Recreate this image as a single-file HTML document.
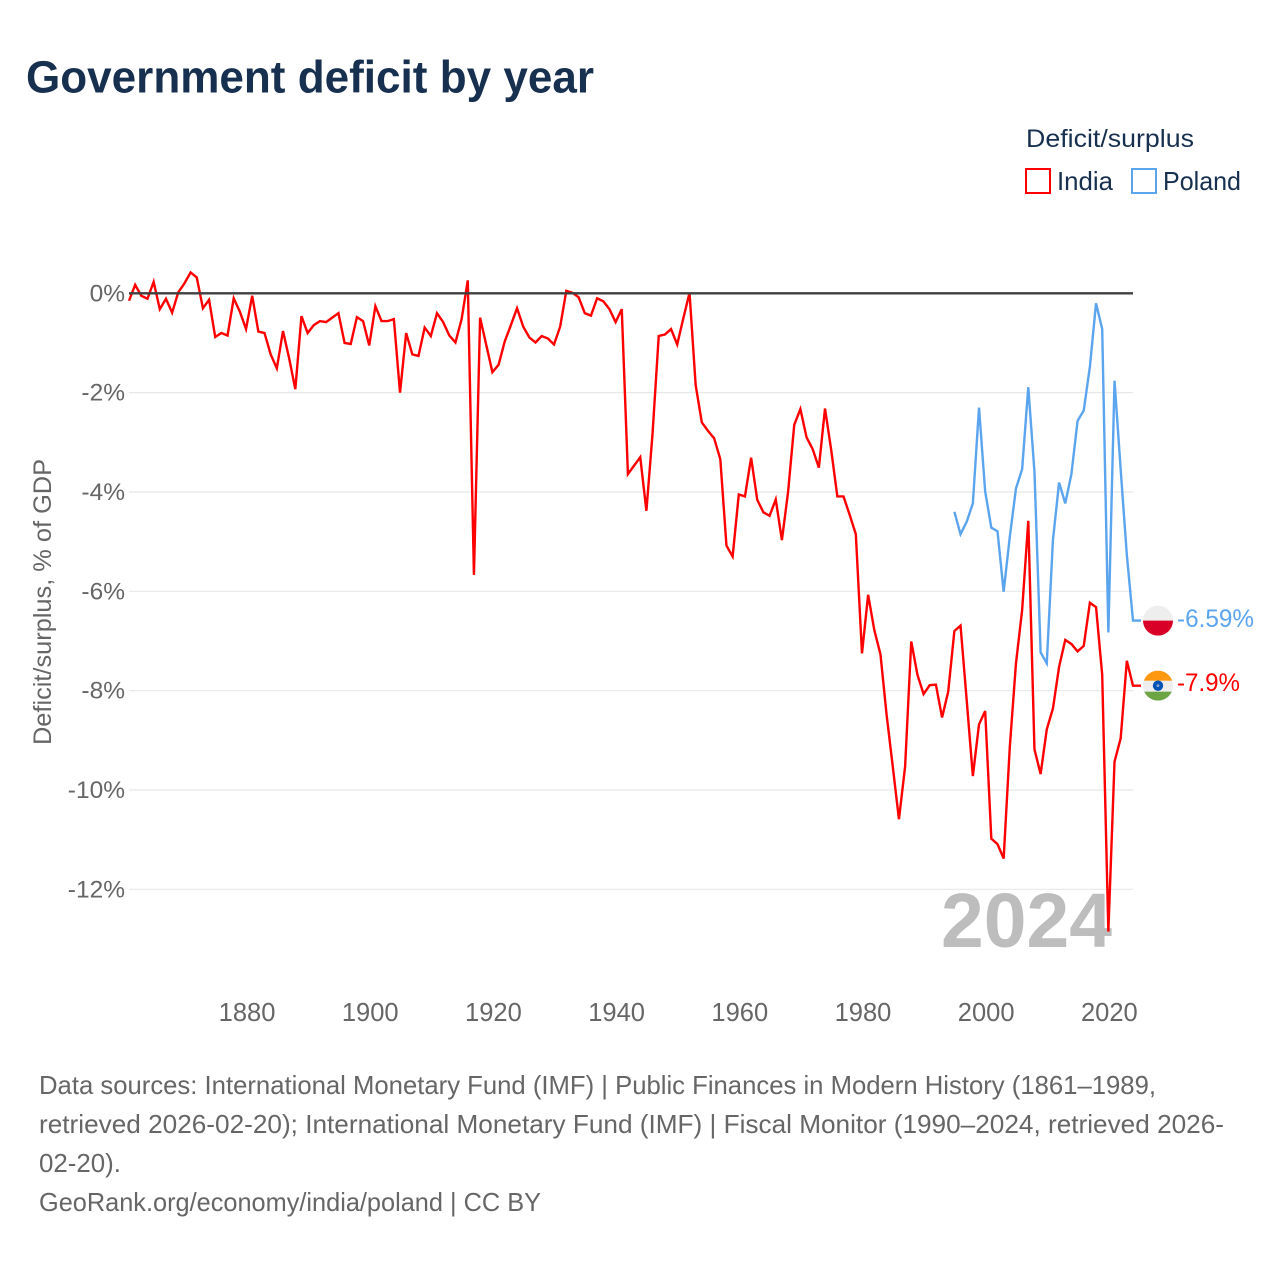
<!DOCTYPE html>
<html lang="en">
<head>
<meta charset="utf-8">
<title>Government deficit by year</title>
<style>
html,body{margin:0;padding:0;background:#fff;}
svg{display:block;font-family:"Liberation Sans",sans-serif;}
</style>
</head>
<body>
<svg id="chart" xmlns="http://www.w3.org/2000/svg" width="1280" height="1280" viewBox="0 0 1280 1280">
<rect width="1280" height="1280" fill="#fff"/>
<text x="26" y="92.5" font-size="45" font-weight="700" fill="#17304f" textLength="568" lengthAdjust="spacingAndGlyphs">Government deficit by year</text>
<text x="1026" y="147" font-size="25" fill="#17304f" textLength="168" lengthAdjust="spacingAndGlyphs">Deficit/surplus</text>
<rect x="1026" y="169" width="24" height="24" fill="#fff" stroke="#ff0000" stroke-width="2"/>
<text x="1057" y="190" font-size="26" fill="#17304f" textLength="56" lengthAdjust="spacingAndGlyphs">India</text>
<rect x="1132" y="169" width="24" height="24" fill="#fff" stroke="#5ba4ee" stroke-width="2"/>
<text x="1163" y="190" font-size="26" fill="#17304f" textLength="78" lengthAdjust="spacingAndGlyphs">Poland</text>
<text transform="translate(51,745) rotate(-90)" font-size="25" fill="#666" textLength="286" lengthAdjust="spacingAndGlyphs">Deficit/surplus, % of GDP</text>
<g id="grid"></g>
<g id="yticks"></g>
<g id="xticks"></g>
<text x="941" y="947" font-size="77" font-weight="700" fill="#bdbdbd" textLength="171" lengthAdjust="spacingAndGlyphs">2024</text>
<g id="series"></g>
<line id="zero" x1="129" x2="1133" stroke="#3f3f3f" stroke-width="2.4"/>
<g id="flag-poland">
  <clipPath id="clip-pl"><circle cx="0" cy="0" r="15"/></clipPath>
  <g clip-path="url(#clip-pl)">
    <rect x="-15" y="-15" width="30" height="15" fill="#eeeeee"/>
    <rect x="-15" y="0" width="30" height="15" fill="#d80027"/>
  </g>
</g>
<g id="flag-india">
  <clipPath id="clip-in"><circle cx="0" cy="0" r="15"/></clipPath>
  <g clip-path="url(#clip-in)">
    <rect x="-15" y="-15" width="30" height="30" fill="#eeeeee"/>
    <rect x="-15" y="-15" width="30" height="10" fill="#ff9811"/>
    <rect x="-15" y="6" width="30" height="9" fill="#6da544"/>
    <circle cx="0" cy="0" r="5.2" fill="#0052b4"/>
    <circle cx="0" cy="0" r="1.4" fill="#7fa8d8"/>
  </g>
</g>
<text id="label-poland" x="1177" font-size="25" fill="#5ba4ee" textLength="77" lengthAdjust="spacingAndGlyphs"></text>
<text id="label-india" x="1177" font-size="25" fill="#ff0000" textLength="63" lengthAdjust="spacingAndGlyphs"></text>
<g font-size="26" fill="#666">
<text x="39" y="1094" textLength="1117" lengthAdjust="spacingAndGlyphs">Data sources: International Monetary Fund (IMF) | Public Finances in Modern History (1861–1989,</text>
<text x="39" y="1133" textLength="1185" lengthAdjust="spacingAndGlyphs">retrieved 2026-02-20); International Monetary Fund (IMF) | Fiscal Monitor (1990–2024, retrieved 2026-</text>
<text x="39" y="1172" textLength="82" lengthAdjust="spacingAndGlyphs">02-20).</text>
<text x="39" y="1211" textLength="502" lengthAdjust="spacingAndGlyphs">GeoRank.org/economy/india/poland | CC BY</text>
</g>
</svg>
<script>
const indiaStartYear = 1861;
const polandStartYear = 1995;
const yTickValues = [0, -2, -4, -6, -8, -10, -12];
const xTickYears = [1880, 1900, 1920, 1940, 1960, 1980, 2000, 2020];
const indiaValues = [
-0.15,0.17,-0.05,-0.11,0.23,-0.32,-0.11,-0.39,0.02,0.2,
0.42,0.32,-0.3,-0.13,-0.88,-0.8,-0.85,-0.1,-0.37,-0.72,
-0.05,-0.77,-0.8,-1.23,-1.51,-0.76,-1.31,-1.93,-0.46,-0.8,
-0.64,-0.56,-0.58,-0.49,-0.4,-1.0,-1.02,-0.48,-0.56,-1.05,
-0.26,-0.56,-0.56,-0.52,-2.0,-0.8,-1.23,-1.26,-0.69,-0.86,
-0.4,-0.58,-0.85,-0.99,-0.52,0.26,-5.67,-0.49,-1.04,-1.59,
-1.44,-0.97,-0.64,-0.3,-0.67,-0.89,-0.99,-0.86,-0.91,-1.03,
-0.67,0.05,0.01,-0.08,-0.4,-0.45,-0.1,-0.16,-0.32,-0.58,
-0.32,-3.64,-3.47,-3.3,-4.38,-2.82,-0.86,-0.83,-0.72,-1.03,
-0.5,0.01,-1.85,-2.6,-2.77,-2.92,-3.34,-5.08,-5.3,-4.05,
-4.09,-3.31,-4.16,-4.41,-4.48,-4.15,-4.97,-4.0,-2.65,-2.33,
-2.9,-3.14,-3.51,-2.32,-3.15,-4.09,-4.09,-4.46,-4.85,-7.25,
-6.07,-6.78,-7.27,-8.49,-9.53,-10.59,-9.53,-7.01,-7.68,-8.07,
-7.89,-7.88,-8.54,-8.02,-6.8,-6.69,-8.19,-9.72,-8.68,-8.41,
-10.98,-11.09,-11.38,-9.13,-7.45,-6.38,-4.58,-9.18,-9.68,-8.78,
-8.36,-7.52,-6.98,-7.06,-7.21,-7.1,-6.23,-6.32,-7.68,-12.85,
-9.43,-8.96,-7.4,-7.9
];
const polandValues = [
-4.4,-4.85,-4.6,-4.23,-2.3,-3.99,-4.72,-4.79,-6.01,-4.9,
-3.93,-3.54,-1.89,-3.59,-7.23,-7.45,-4.97,-3.81,-4.23,-3.64,
-2.57,-2.36,-1.48,-0.2,-0.72,-6.83,-1.76,-3.55,-5.27,-6.59
];
const svgNS = 'http://www.w3.org/2000/svg';
function xScale(year) { return 129 + (year - 1861) * (1004 / 163); }
function yScale(v) { return 293.3 - v * (596 / 12); }
function make(tag, attrs, parent) {
  const el = document.createElementNS(svgNS, tag);
  for (const k in attrs) el.setAttribute(k, attrs[k]);
  parent.appendChild(el);
  return el;
}
const grid = document.getElementById('grid');
const yticks = document.getElementById('yticks');
const xticks = document.getElementById('xticks');
const series = document.getElementById('series');
yTickValues.forEach(function (v) {
  if (v !== 0) {
    const gl = make('line', {x1: 129, x2: 1133, y1: yScale(v), y2: yScale(v), stroke: '#e8e8e8', 'stroke-width': 1.2}, grid);
    
    
  }
  const t = make('text', {x: 125, y: yScale(v) + 8, 'text-anchor': 'end', 'font-size': 24.5, fill: '#666'}, yticks);
  t.textContent = v + '%';
  
  
});
xTickYears.forEach(function (yr) {
  const t = make('text', {x: xScale(yr) + 1, y: 1021, 'text-anchor': 'middle', 'font-size': 25.5, fill: '#666'}, xticks);
  t.textContent = String(yr);
  
  
});
const zero = document.getElementById('zero');
zero.setAttribute('y1', yScale(0));
zero.setAttribute('y2', yScale(0));
function pathFor(values, startYear) {
  let d = '';
  values.forEach(function (v, i) {
    d += (i ? 'L' : 'M') + xScale(startYear + i).toFixed(2) + ' ' + yScale(v).toFixed(2);
  });
  const last = values[values.length - 1];
  d += 'L' + (xScale(startYear + values.length - 1) + 8).toFixed(2) + ' ' + yScale(last).toFixed(2);
  return d;
}
const polandLine = make('path', {d: pathFor(polandValues, polandStartYear), fill: 'none', stroke: '#5ba4ee', 'stroke-width': 2.4, 'stroke-linejoin': 'miter'}, series);


const indiaLine = make('path', {d: pathFor(indiaValues, indiaStartYear), fill: 'none', stroke: '#ff0000', 'stroke-width': 2.4, 'stroke-linejoin': 'miter'}, series);


const lastPoland = polandValues[polandValues.length - 1];
const lastIndia = indiaValues[indiaValues.length - 1];
document.getElementById('flag-poland').setAttribute('transform', 'translate(1158,' + yScale(lastPoland) + ')');
document.getElementById('flag-india').setAttribute('transform', 'translate(1158,' + yScale(lastIndia) + ')');
const labelPoland = document.getElementById('label-poland');
labelPoland.setAttribute('y', yScale(lastPoland) + 6.5);
labelPoland.textContent = lastPoland + '%';
const labelIndia = document.getElementById('label-india');
labelIndia.setAttribute('y', yScale(lastIndia) + 5.5);
labelIndia.textContent = lastIndia + '%';
</script>
</body>
</html>
